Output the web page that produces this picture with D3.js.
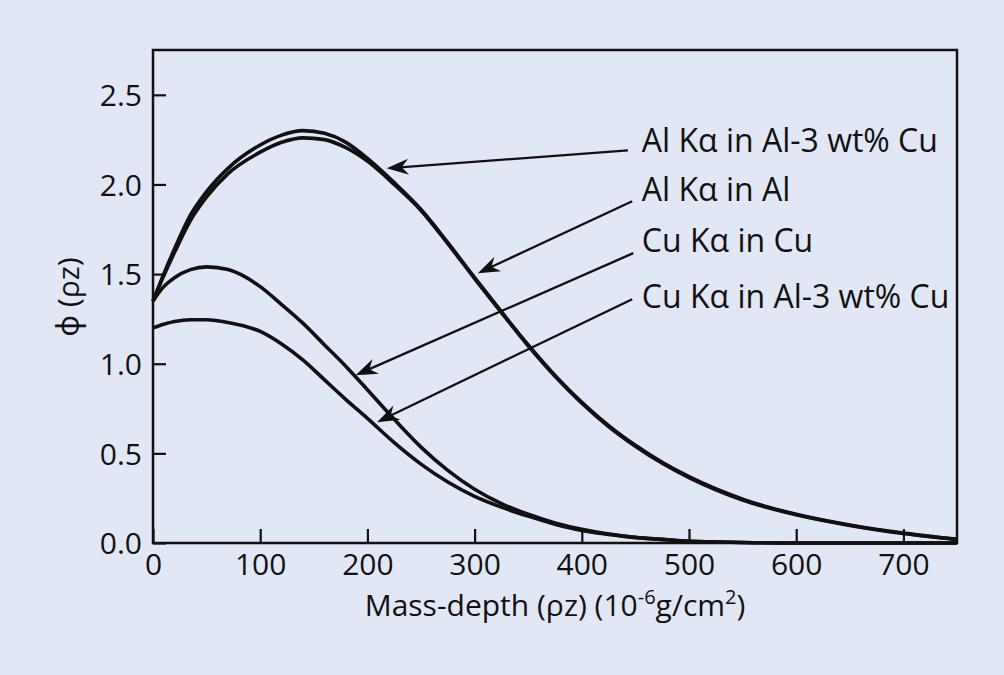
<!DOCTYPE html>
<html>
<head>
<meta charset="utf-8">
<script src="https://cdn.jsdelivr.net/npm/d3@7"></script>
<style>
  html, body { margin: 0; padding: 0; background: #e1e7f5; }
  svg { display: block; font-family: "Open Sans", "Noto Sans", sans-serif; }
</style>
</head>
<body>
<svg id="chart" width="1004" height="675"></svg>
<script>
// mass-depth grid (10^-6 g/cm2)
const depth = [0, 10, 20, 35, 50, 70, 100, 120, 140, 160, 180, 200, 225, 250, 275, 300,
  325, 350, 375, 400, 425, 450, 475, 500, 550, 600, 650, 700, 750];

// phi(rho z) values
const alInAlCu = [1.35, 1.50, 1.64, 1.83, 1.96, 2.09, 2.22, 2.275, 2.30, 2.285, 2.235, 2.145, 2.01, 1.86, 1.675, 1.48,
  1.29, 1.105, 0.935, 0.785, 0.655, 0.545, 0.45, 0.37, 0.245, 0.16, 0.10, 0.055, 0.02];
const alInAl = [1.35, 1.49, 1.62, 1.80, 1.93, 2.06, 2.18, 2.235, 2.26, 2.25, 2.205, 2.13, 2.0, 1.855, 1.67, 1.475,
  1.285, 1.10, 0.93, 0.78, 0.65, 0.54, 0.445, 0.365, 0.24, 0.157, 0.098, 0.053, 0.02];
const cuInCu = [1.35, 1.43, 1.48, 1.525, 1.54, 1.525, 1.43, 1.33, 1.225, 1.105, 0.985, 0.855, 0.69, 0.535, 0.405, 0.30,
  0.22, 0.16, 0.112, 0.076, 0.05, 0.032, 0.02, 0.01, 0.003, 0, 0, 0, 0];
const cuInAlCu = [1.20, 1.22, 1.235, 1.245, 1.245, 1.23, 1.18, 1.11, 1.02, 0.91, 0.80, 0.695, 0.56, 0.44, 0.34, 0.26,
  0.20, 0.15, 0.105, 0.07, 0.048, 0.03, 0.02, 0.01, 0.003, 0, 0, 0, 0];

const seriesNames = ['Al K\u03b1 in Al-3 wt% Cu', 'Al K\u03b1 in Al', 'Cu K\u03b1 in Cu', 'Cu K\u03b1 in Al-3 wt% Cu'];
const seriesValues = [alInAlCu, alInAl, cuInCu, cuInAlCu];

// label anchors and arrow ends, in data units
const labelDepth = [456, 456, 456, 456];
const labelPhi = [2.18, 1.906, 1.622, 1.31];
const arrowFrom = [[443, 2.19], [447, 1.906], [448, 1.617], [447, 1.36]];
const arrowTo = [[218, 2.09], [303, 1.505], [189, 0.936], [209, 0.674]];

const xTicks = [0, 100, 200, 300, 400, 500, 600, 700];
const yTicks = [0, 0.5, 1.0, 1.5, 2.0, 2.5];

const svg = d3.select('#chart');
const margin = { top: 50, right: 47, bottom: 132, left: 153 };
const width = +svg.attr('width');
const height = +svg.attr('height');
const innerWidth = width - margin.left - margin.right;
const innerHeight = height - margin.top - margin.bottom;

const x = d3.scaleLinear().domain([0, 750]).range([0, innerWidth]);
const y = d3.scaleLinear().domain([0, 2.75]).range([innerHeight, 0]);

const g = svg.append('g').attr('transform', `translate(${margin.left},${margin.top})`);

// curves
const line = d3.line()
  .x((d, i) => x(depth[i]))
  .y(d => y(d))
  .curve(d3.curveMonotoneX);

g.selectAll('path.curve').data(seriesValues).enter()
  .append('path')
  .attr('class', 'curve')
  .attr('d', line)
  .attr('fill', 'none')
  .attr('stroke', '#111')
  .attr('stroke-width', 3.6)
  .attr('stroke-linejoin', 'round');

// frame: left/bottom axes plus top and right border
g.append('path')
  .attr('d', `M0,0H${innerWidth}V${innerHeight}H0Z`)
  .attr('fill', 'none')
  .attr('stroke', '#111')
  .attr('stroke-width', 2.5);

// axes with inward ticks
const xAxis = g.append('g')
  .attr('transform', `translate(0,${innerHeight})`)
  .call(d3.axisBottom(x).tickValues(xTicks).tickSizeInner(-14).tickSizeOuter(0).tickPadding(0).tickFormat(d3.format('d')))
  .attr('font-family', null).attr('font-size', null);
xAxis.select('.domain').remove();
xAxis.selectAll('.tick line').attr('stroke', '#111').attr('stroke-width', 2.2);
xAxis.selectAll('.tick text')
  .attr('y', 32).attr('dy', null)
  .style('font-size', '30px').attr('fill', '#111');

const yAxis = g.append('g')
  .call(d3.axisLeft(y).tickValues(yTicks).tickSizeInner(-13).tickSizeOuter(0).tickPadding(0).tickFormat(d3.format('.1f')))
  .attr('font-family', null).attr('font-size', null);
yAxis.select('.domain').remove();
yAxis.selectAll('.tick line').attr('stroke', '#111').attr('stroke-width', 2.2);
yAxis.selectAll('.tick text')
  .attr('x', -11).attr('dy', '0.36em')
  .style('font-size', '30px').attr('fill', '#111');

// axis titles
const xTitle = svg.append('text')
  .attr('x', 555).attr('y', 616)
  .attr('text-anchor', 'middle')
  .style('font-size', '30px')
  .attr('fill', '#111');
xTitle.append('tspan').text('Mass-depth (\u03c1z) (10');
xTitle.append('tspan').text('-6').attr('dy', -12).style('font-size', '20px');
xTitle.append('tspan').text('g/cm').attr('dy', 12);
xTitle.append('tspan').text('2').attr('dy', -12).style('font-size', '20px');
xTitle.append('tspan').text(')').attr('dy', 12);

svg.append('text')
  .attr('transform', 'translate(79,297) rotate(-90)')
  .attr('text-anchor', 'middle')
  .style('font-size', '30px')
  .attr('fill', '#111')
  .text('\u03d5 (\u03c1z)');

// annotation arrows
const arrowHead = 'M0,0L-22,-8L-15,0L-22,8Z';
arrowFrom.forEach((from, i) => {
  const to = arrowTo[i];
  const x1 = x(from[0]), y1 = y(from[1]);
  const x2 = x(to[0]), y2 = y(to[1]);
  const angle = Math.atan2(y2 - y1, x2 - x1);
  g.append('line')
    .attr('x1', x1).attr('y1', y1)
    .attr('x2', x2 - 10 * Math.cos(angle))
    .attr('y2', y2 - 10 * Math.sin(angle))
    .attr('stroke', '#111')
    .attr('stroke-width', 2.3);
  g.append('path')
    .attr('d', arrowHead)
    .attr('transform', `translate(${x2},${y2}) rotate(${angle * 180 / Math.PI})`)
    .attr('fill', '#111');
});

// curve labels
g.selectAll('text.label').data(seriesNames).enter()
  .append('text')
  .attr('class', 'label')
  .attr('x', (d, i) => x(labelDepth[i]))
  .attr('y', (d, i) => y(labelPhi[i]))
  .style('font-size', '32px')
  .attr('fill', '#111')
  .text(d => d);
</script>
</body>
</html>
